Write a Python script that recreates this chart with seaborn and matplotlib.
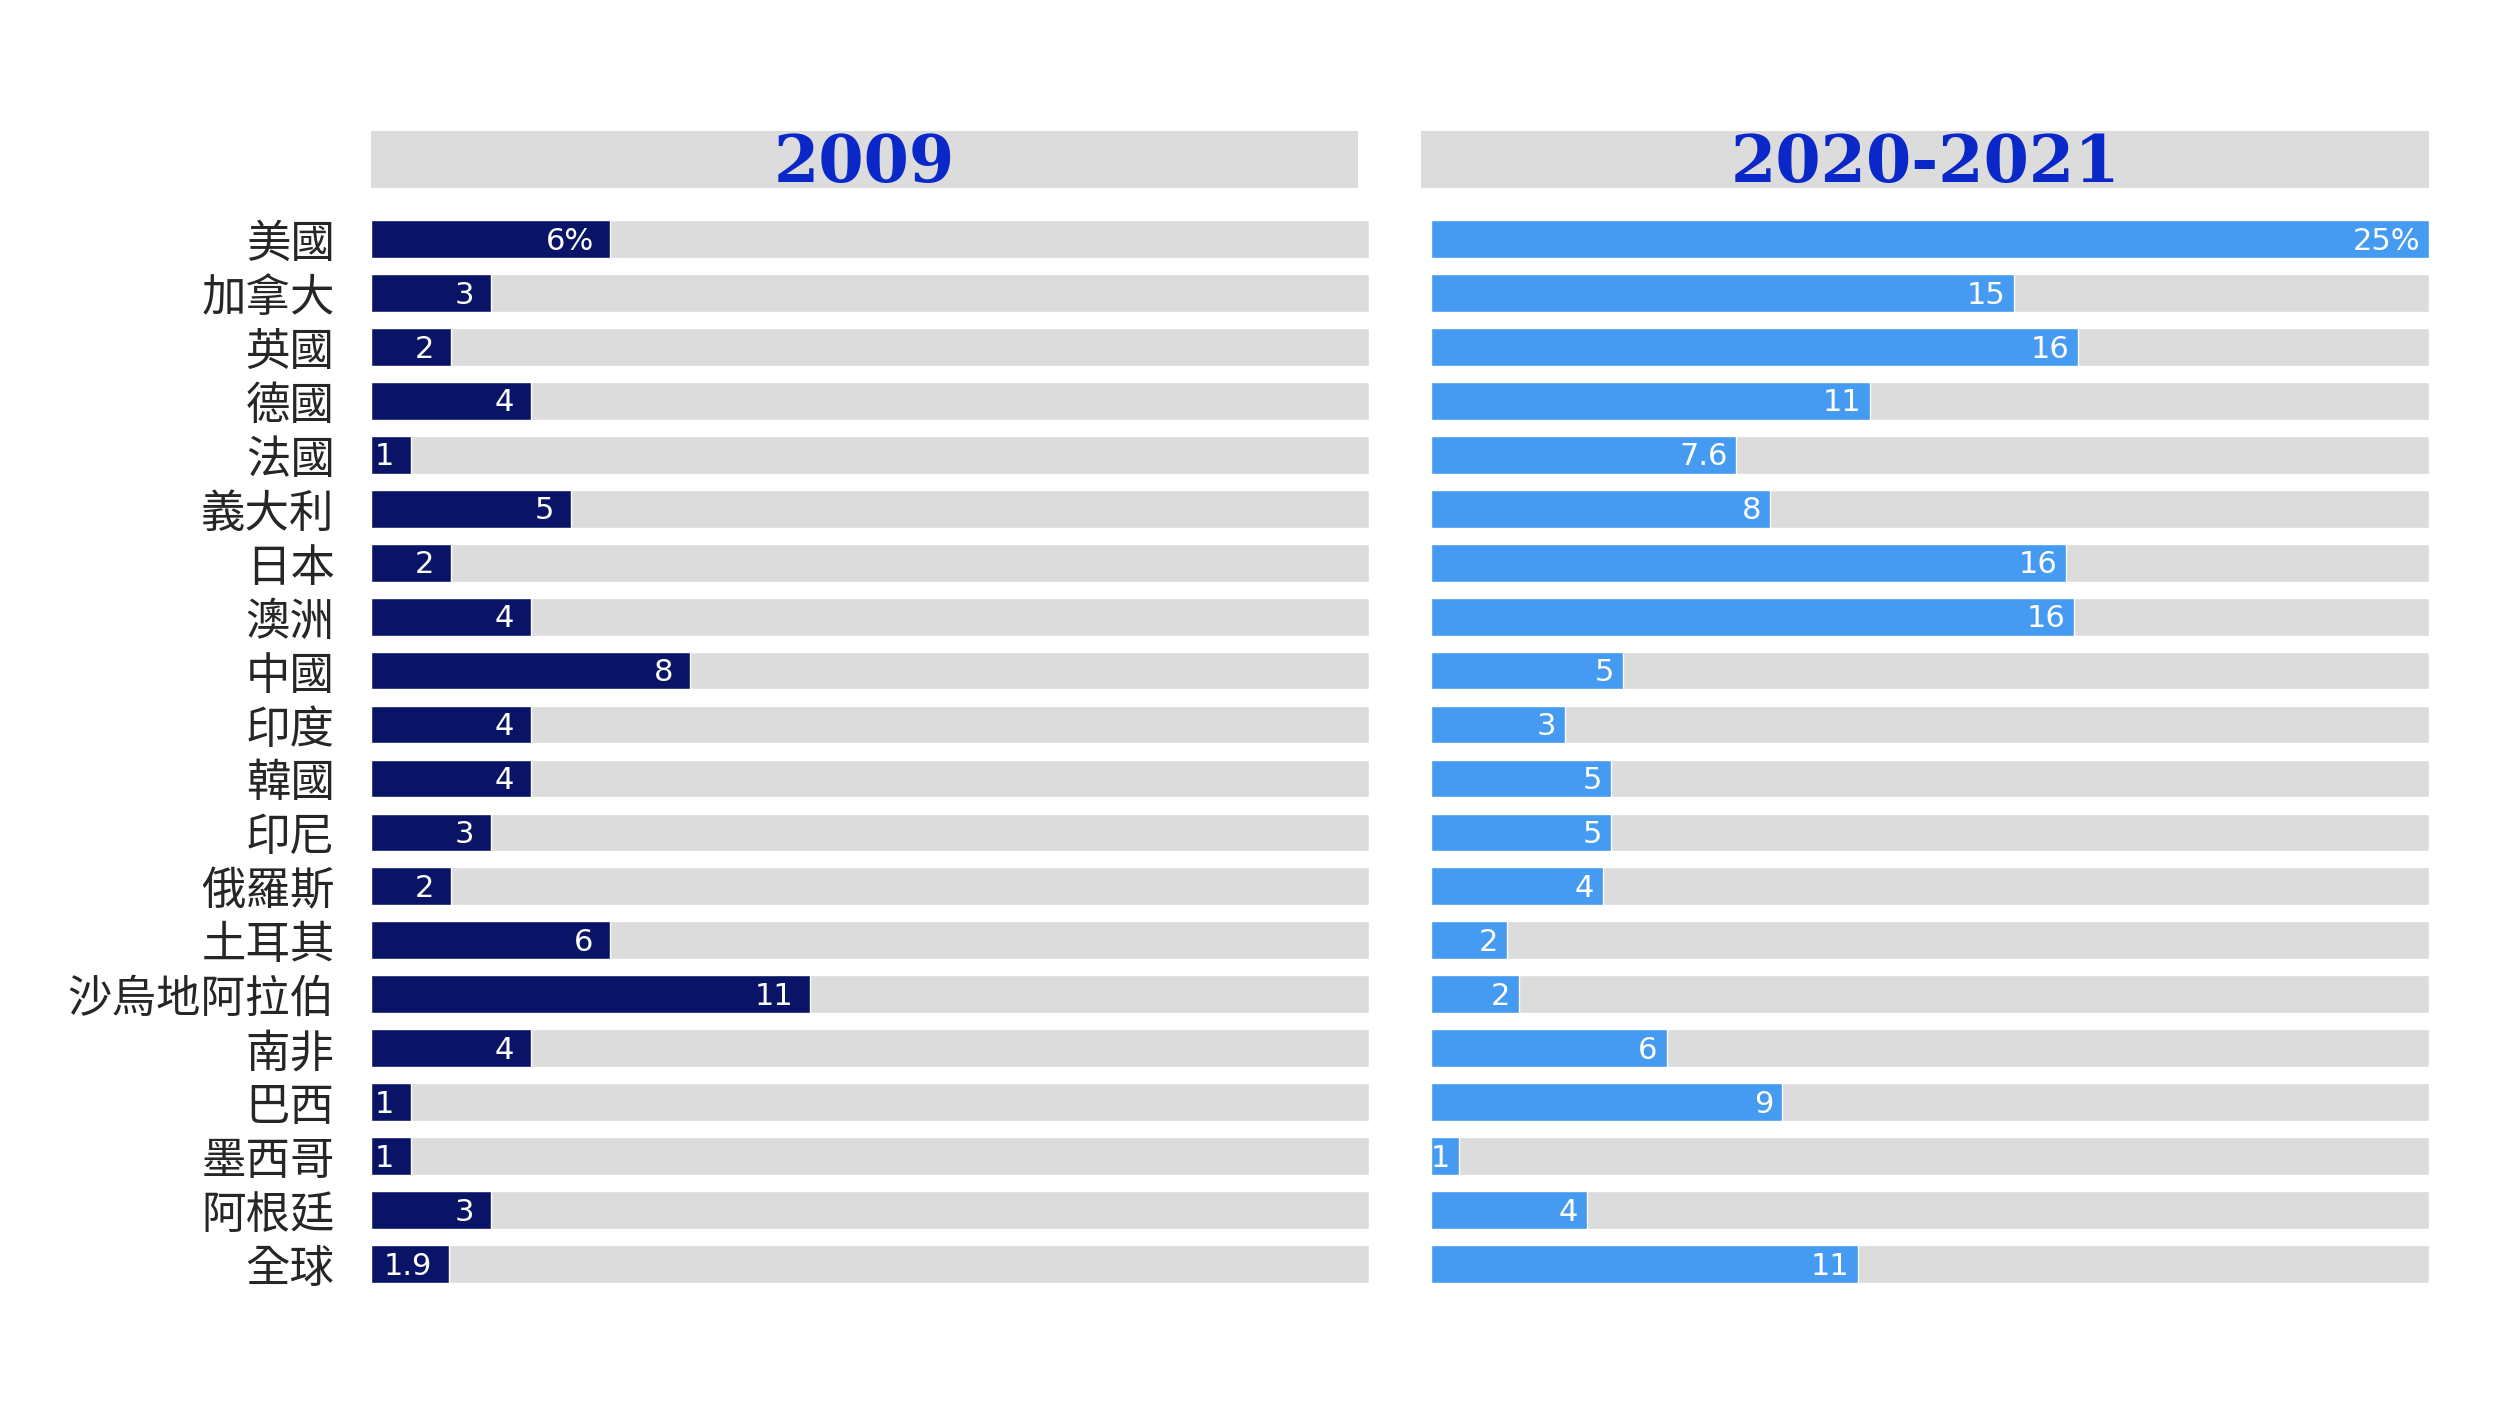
import matplotlib
matplotlib.use('Agg')
import matplotlib.pyplot as plt
import seaborn as sns
import pandas as pd

# ── Data ───────────────────────────────────────────────────────────────────────
countries = ['美國', '加拿大', '英國', '德國', '法國', '義大利', '日本', '澳洲', '中國', '印度',
             '韓國', '印尼', '俄羅斯', '土耳其', '沙烏地阿拉伯', '南非', '巴西', '墨西哥', '阿根廷', '全球']
vals_2009 = [6, 3, 2, 4, 1, 5, 2, 4, 8, 4, 4, 3, 2, 6, 11, 4, 1, 1, 3, 1.95]
labels_2009 = ['6%', '3', '2', '4', '1', '5', '2', '4', '8', '4', '4', '3', '2', '6', '11', '4', '1', '1', '3', '1.9']
vals_2021 = [25, 14.6, 16.2, 11, 7.65, 8.5, 15.9, 16.1, 4.8, 3.35, 4.5, 4.5, 4.3, 1.9, 2.2, 5.9, 8.8, 0.7, 3.9, 10.7]
labels_2021 = ['25%', '15', '16', '11', '7.6', '8', '16', '16', '5', '3', '5', '5', '4', '2', '2', '6', '9', '1', '4', '11']
panel_titles = ['2009', '2020-2021']
x_max = 25

navy = '#0A1466'
sky = '#449BF1'
grey = '#DCDCDC'
title_blue = '#0A27C8'

sns.set_theme(style='white')
plt.rcParams['font.family'] = ['Noto Sans CJK TC', 'DejaVu Sans']

fig = plt.figure(figsize=(24.96, 14.04), dpi=100)

# (axes left, header left, header width, values, labels, colour, show names, label pad)
panels = [
    (0.1486, 0.1486, 0.3954, vals_2009, labels_2009, navy, True, 0.42),
    (0.5733, 0.5695, 0.4037, vals_2021, labels_2021, sky, False, 0.22),
]

for (ax_left, hdr_left, hdr_w, vals, labels, col, show_names, pad), title in zip(panels, panel_titles):
    ax = fig.add_axes([ax_left, 0.0805, 0.3999, 0.7685])
    df = pd.DataFrame({'country': countries, 'value': vals, 'full': [x_max] * len(vals)})

    # grey track behind each bar
    sns.barplot(data=df, x='full', y='country', color=grey, width=0.7, ax=ax, saturation=1)
    sns.barplot(data=df, x='value', y='country', color=col, width=0.7, ax=ax, saturation=1)

    for i, (v, lab) in enumerate(zip(vals, labels)):
        ax.text(v - pad, i + 0.04, lab, ha='right', va='center', color='white',
                fontsize=22, family='DejaVu Sans')

    ax.set_xlim(0, x_max)
    ax.set_ylim(len(countries) - 0.5, -0.5)
    ax.set_xlabel('')
    ax.set_ylabel('')
    ax.set_xticks([])
    for s in ax.spines.values():
        s.set_visible(False)
    if show_names:
        ax.tick_params(axis='y', length=0, pad=26, labelsize=32)
    else:
        ax.set_yticklabels([])
        ax.tick_params(axis='y', length=0)

    # header box
    hax = fig.add_axes([hdr_left, 0.866, hdr_w, 0.041])
    hax.set_facecolor(grey)
    hax.set_xticks([])
    hax.set_yticks([])
    for s in hax.spines.values():
        s.set_visible(False)
    hax.text(0.5, 0.42, title, ha='center', va='center', transform=hax.transAxes,
             color=title_blue, fontsize=47, fontweight='bold', family='DejaVu Serif')

fig.savefig('out.png', dpi=100, facecolor='white')
